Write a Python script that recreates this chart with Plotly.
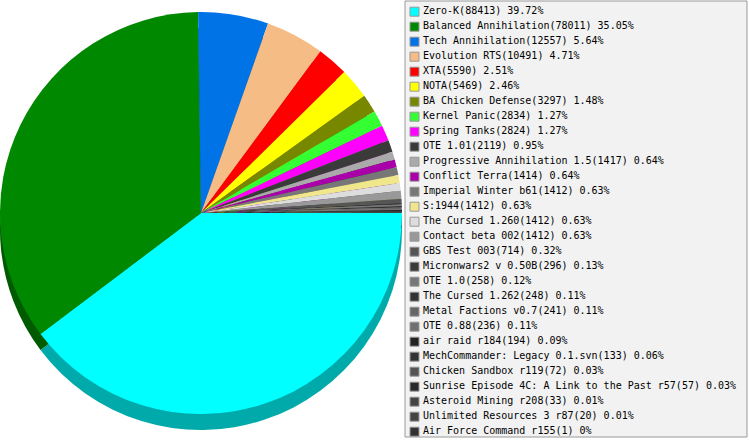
"""
Spring RTS games - share of players per game (pie with depth + side legend)
"""

import plotly.graph_objects as go

W, H = 749, 445

games = [
    'Zero-K', 'Balanced Annihilation', 'Tech Annihilation', 'Evolution RTS',
    'XTA', 'NOTA', 'BA Chicken Defense', 'Kernel Panic', 'Spring Tanks',
    'OTE 1.01', 'Progressive Annihilation 1.5', 'Conflict Terra',
    'Imperial Winter b61', 'S:1944', 'The Cursed 1.260', 'Contact beta 002',
    'GBS Test 003', 'Micronwars2 v 0.50B', 'OTE 1.0', 'The Cursed 1.262',
    'Metal Factions v0.7', 'OTE 0.88', 'air raid r184',
    'MechCommander: Legacy 0.1.svn', 'Chicken Sandbox r119',
    'Sunrise Episode 4C: A Link to the Past r57', 'Asteroid Mining r208',
    'Unlimited Resources 3 r87', 'Air Force Command r155',
]
players = [
    88413, 78011, 12557, 10491, 5590, 5469, 3297, 2834, 2824,
    2119, 1417, 1414, 1412, 1412, 1412, 1412, 714, 296, 258, 248,
    241, 236, 194, 133, 72, 57, 33, 20, 1,
]
colors = [
    '#00ffff', '#008800', '#0073e6', '#f5bd85', '#ff0000', '#ffff00',
    '#778800', '#33ff33', '#ff00ff', '#3a3a3a', '#aaaaaa', '#aa00aa',
    '#777777', '#f0e68c', '#dddddd', '#999999', '#555555', '#3a3a3a',
    '#777777', '#333333', '#666666', '#707070', '#222222', '#333333',
    '#555555', '#2a2a2a', '#444444', '#444444', '#333333',
]


def darker(hex_color, k=0.67):
    r, g, b = (int(hex_color[i:i + 2], 16) for i in (1, 3, 5))
    return '#%02x%02x%02x' % (int(r * k), int(g * k), int(b * k))


def pct_label(v, total):
    p = round(v / total * 100, 2)
    s = ('%.2f' % p).rstrip('0').rstrip('.')
    return s + '%'


total = sum(players)
labels = [f'{g}({n}) {pct_label(n, total)}' for g, n in zip(games, players)]

# pie geometry in pixels
cx, cy, r = 201, 213, 201
depth = 16


def dom(y_center):
    return dict(x=[0, (cx + r) / W],
                y=[1 - (y_center + r) / H, 1 - (y_center - r) / H])


fig = go.Figure()

# the "3D" side of the pie: same pie, shifted down and darker
fig.add_trace(go.Pie(
    values=players, labels=games, sort=False, direction='clockwise',
    rotation=90, textinfo='none', hoverinfo='skip', showlegend=False,
    marker=dict(colors=[darker(c) for c in colors], line=dict(width=0)),
    domain=dom(cy + depth),
))

fig.add_trace(go.Pie(
    values=players, labels=games, sort=False, direction='clockwise',
    rotation=90, textinfo='none', showlegend=False,
    hovertemplate='%{label}: %{value}<extra></extra>',
    marker=dict(colors=colors, line=dict(width=0)),
    domain=dom(cy),
))

# legend drawn as a scatter: one row per game
rows = list(range(len(games)))
fig.add_trace(go.Scatter(
    x=[0] * len(games), y=rows, mode='markers', showlegend=False,
    hoverinfo='skip',
    marker=dict(symbol='square', size=9, color=colors,
                line=dict(color='#999999', width=1)),
))
fig.add_trace(go.Scatter(
    x=[8.5] * len(games), y=rows, mode='text', text=labels,
    textposition='middle right', showlegend=False, hoverinfo='skip',
    textfont=dict(family='DejaVu Sans Mono', size=10, color='#000000'),
))

row_px, first_px = 15, 11.7
fig.update_layout(
    width=W, height=H,
    margin=dict(l=0, r=0, t=0, b=0),
    paper_bgcolor='white', plot_bgcolor='rgba(0,0,0,0)',
    xaxis=dict(visible=False, range=[-414.5, W - 414.5], fixedrange=True),
    yaxis=dict(visible=False,
               range=[(H - first_px) / row_px, -first_px / row_px],
               fixedrange=True),
    shapes=[dict(type='rect', xref='paper', yref='paper', layer='below',
                 x0=405 / W, x1=747 / W, y0=1 - 437 / H, y1=1 - 1 / H,
                 fillcolor='#f2f2f2', line=dict(color='#999999', width=1))],
)

fig.write_html('out.html', config={'displayModeBar': False},
               post_script="document.body.style.margin='0';")
